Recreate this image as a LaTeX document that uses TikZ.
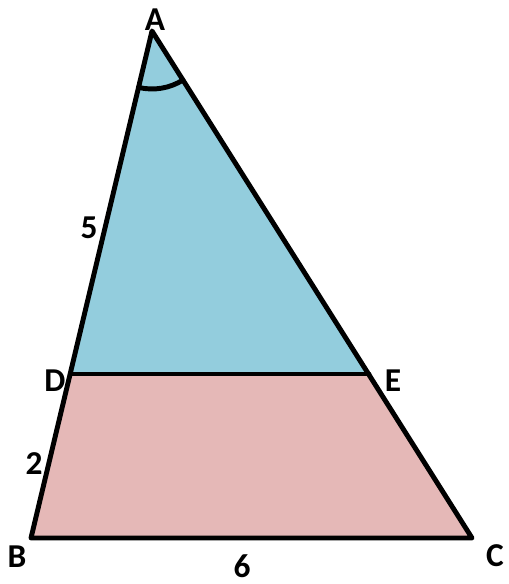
\documentclass[tikz,border=0pt]{standalone}
\usepackage{fontspec}
\setmainfont{Carlito}
\usetikzlibrary{calc}
\definecolor{topblue}{HTML}{93CDDD}
\definecolor{lowpink}{HTML}{E5B8B7}

\begin{document}
\begin{tikzpicture}[
  x=0.02cm, y=-0.02cm,
  edge/.style={line width=2.8pt, line join=round, line cap=round},
  lbl/.style={font=\bfseries\fontsize{19}{22}\selectfont, inner sep=0pt}
]
\useasboundingbox (0,0) rectangle (508,584);
\coordinate (A) at (152,31);
\coordinate (B) at (31,538);
\coordinate (C) at (472,538);
\coordinate (D) at (71,374);
\coordinate (E) at (369,374);
\fill[topblue] (A) -- (D) -- (E) -- cycle;
\fill[lowpink] (D) -- (B) -- (C) -- (E) -- cycle;
\draw[edge] (A) -- (B) -- (C) -- cycle;
\draw[edge] (D) -- (E);
\draw[edge] ($(A)+(256.5:1.16cm)$) arc[start angle=256.5, end angle=302.2, radius=1.16cm];
\node[lbl] (lA) at (155,20) {A};
\node[lbl] (lB) at (17,557) {B};
\node[lbl] (lC) at (495,556) {C};
\node[lbl] (lD) at (55,381) {D};
\node[lbl] (lE) at (393,381) {E};
\node[lbl] (l5) at (89,228) {5};
\node[lbl] (l2) at (34,464) {2};
\node[lbl] (l6) at (242,566) {6};
\end{tikzpicture}
\end{document}
